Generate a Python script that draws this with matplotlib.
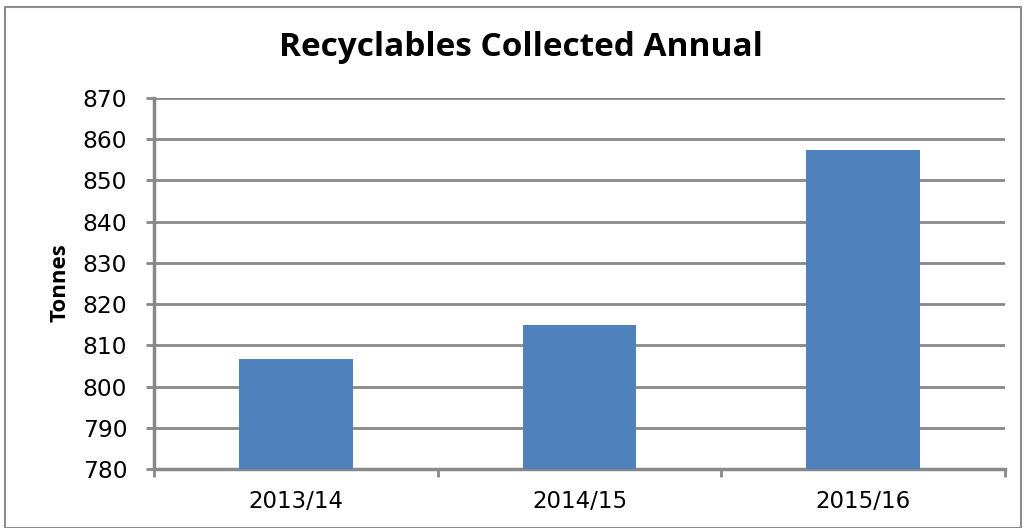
import matplotlib
matplotlib.use("Agg")
import matplotlib.pyplot as plt
from matplotlib.patches import Rectangle

categories = ["2013/14", "2014/15", "2015/16"]
tonnes = [806.8, 815.0, 857.5]
yticks = [780, 790, 800, 810, 820, 830, 840, 850, 860, 870]

W, H = 1027, 528
fig = plt.figure(figsize=(W / 100, H / 100), dpi=100)
fig.patch.set_facecolor("white")

# outer border
fig.patches.append(Rectangle((5 / W, 0), (1021 - 5) / W, (H - 7) / H,
                             transform=fig.transFigure, fill=False,
                             edgecolor="#8c8c8c", linewidth=1.5))

left, right, top, bottom = 154, 1005, 98, 469
ax = fig.add_axes([left / W, 1 - bottom / H, (right - left) / W, (bottom - top) / H])

x = list(range(len(categories)))
ax.bar(x, [t - 780 for t in tonnes], bottom=780, width=0.4, color="#4F81BD", zorder=3)

ax.set_xlim(-0.5, 2.5)
ax.set_ylim(780, 870)
ax.set_yticks(yticks)
ax.set_yticklabels([str(v) for v in yticks], fontsize=16.8, family="DejaVu Sans")
ax.set_xticks(x)
ax.set_xticklabels(categories, fontsize=16.5, family="DejaVu Sans")
ax.tick_params(axis="x", length=0, pad=15)
ax.tick_params(axis="y", length=5.8, width=2, color="#888888", pad=13.5)
ax.set_xticks([-0.5, 0.5, 1.5, 2.5], minor=True)
ax.tick_params(axis="x", which="minor", length=5.8, width=2, color="#888888")

ax.grid(axis="y", color="#888888", linewidth=2, zorder=0)
for s in ["top", "right"]:
    ax.spines[s].set_visible(False)
ax.spines["left"].set_color("#888888")
ax.spines["left"].set_linewidth(2.5)
ax.spines["bottom"].set_color("#888888")
ax.spines["bottom"].set_linewidth(2.5)

fig.text(60 / W, 1 - 283 / H, "Tonnes", ha="center", va="center", rotation=90,
         fontsize=16, fontweight="bold", family="Open Sans")
fig.text(521 / W, 1 - 47 / H, "Recyclables Collected Annual", ha="center", va="center",
         fontsize=24, fontweight="bold", family="Open Sans")

fig.savefig("out.png", dpi=100)
